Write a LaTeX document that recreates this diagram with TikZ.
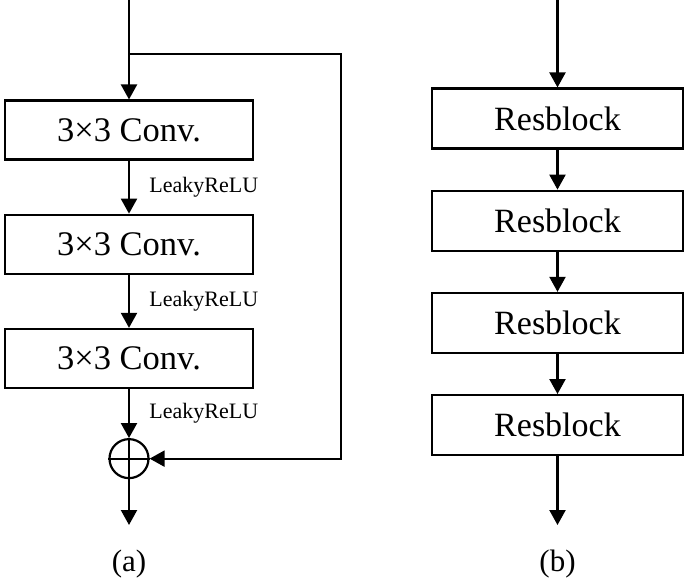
\documentclass[tikz,border=0pt]{standalone}
\usepackage{fontspec}
\setmainfont{Liberation Serif}
\usetikzlibrary{matrix,positioning,arrows.meta}

\begin{document}
\begin{tikzpicture}[x=1pt,y=1pt,line width=2.2pt,>={Triangle[width=16pt,length=15pt]},act/.style={font=\fontsize{22}{26}\selectfont},caption/.style={font=\fontsize{31}{36}\selectfont}]
	\useasboundingbox (0,0) rectangle (685,-584);
	\matrix [matrix of nodes,row sep=53pt,anchor=north,cells={nodes={rectangle,draw,minimum width=248pt,minimum height=59pt,inner sep=0pt,font=\fontsize{34.5}{40}\selectfont}}] (conv) at (129,-95) {
		3×3 Conv.\\
		3×3 Conv.\\
		3×3 Conv.\\
	};
	\matrix [matrix of nodes,row sep=40pt,anchor=north,cells={nodes={rectangle,draw,minimum width=251pt,minimum height=60pt,inner sep=0pt,font=\fontsize{34}{40}\selectfont}}] (res) at (557.5,-83) {
		Resblock\\
		Resblock\\
		Resblock\\
		Resblock\\
	};
	\node [circle,draw,minimum size=39pt,inner sep=0pt,below=49pt of conv-3-1] (sum) {};
	\coordinate (ina) at (129,0);
	\coordinate (split) at (129,-54);
	\coordinate (skip) at (341,-54);
	\coordinate (outa) at (129,-525);
	\coordinate (inb) at (557.5,0);
	\coordinate (outb) at (557.5,-525);
	\draw [->] (ina) -- (conv-1-1);
	\foreach \X in {1,2} {
		\draw [->] (conv-\X-1) -- (conv-\the\numexpr\X+1\relax-1) node [act,midway,right=16pt] {LeakyReLU};
	}
	\draw [->] (conv-3-1) -- (sum) node [act,midway,right=16pt] {LeakyReLU};
	\draw (sum.north) -- (sum.south) (sum.west) -- (sum.east);
	\draw [->] (split) -- (skip) |- (sum);
	\draw [->] (sum) -- (outa);
	\draw [->] (inb) -- (res-1-1);
	\foreach \X in {1,2,3} {
		\draw [->] (res-\X-1) -- (res-\the\numexpr\X+1\relax-1);
	}
	\draw [->] (res-4-1) -- (outb);
	\node [caption] (capa) at (129,-564) {(a)};
	\node [caption] (capb) at (557.5,-564) {(b)};
\end{tikzpicture}
\end{document}
